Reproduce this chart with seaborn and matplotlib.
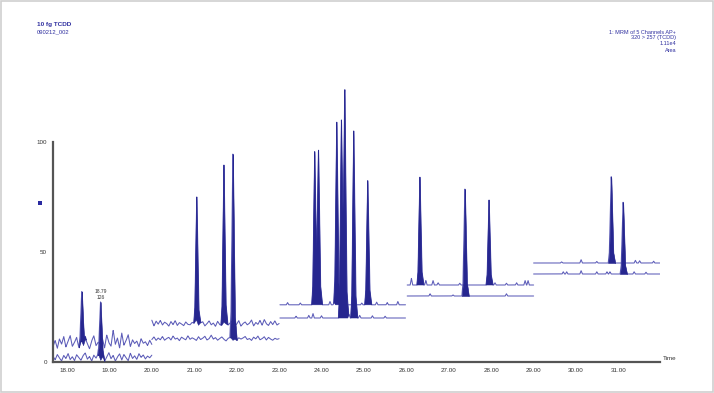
import numpy as np
import matplotlib
matplotlib.use('Agg')
import matplotlib.pyplot as plt
import seaborn as sns
from matplotlib.patches import Rectangle

sns.set_style('white')
plt.rcParams['font.family'] = ['Liberation Sans', 'DejaVu Sans']

# acquisition windows (min) and trace baseline levels (% of full scale)
window_start = [17.67, 20.00, 23.02, 26.02, 29.00]
window_end = [20.00, 23.00, 25.98, 29.00, 31.98]
upper_level = [8.5, 17.5, 26.0, 35.0, 45.0]
lower_level = [2.0, 10.6, 20.0, 30.0, 40.0]

# noisy baselines in the first two windows
w1_upper_noise = [7.0, 9.8, 6.2, 10.5, 8.1, 11.6, 6.8, 9.4, 12.0, 7.1,
                  8.9, 11.2, 6.5, 9.9, 7.7, 10.8, 8.3, 6.0, 9.6, 11.9,
                  7.4, 9.0, 8.2, 10.7, 6.4, 12.3, 8.8, 7.2, 14.5, 8.0,
                  10.9, 6.3, 13.2, 7.6, 9.7, 12.4, 7.0, 10.1, 8.4, 9.5,
                  6.9, 10.6, 8.5, 9.2, 7.5, 9.9, 8.0]
w1_lower_noise = [2.6, 1.0, 3.4, 1.8, 0.5, 3.0, 1.6, 3.9, 1.1, 2.4,
                  0.6, 3.3, 2.0, 0.8, 2.9, 4.1, 1.3, 2.5, 0.4, 3.1,
                  1.7, 3.6, 1.0, 2.6, 0.3, 2.2, 4.3, 1.5, 3.0, 0.4,
                  2.3, 3.7, 0.9, 3.4, 1.9, 0.6, 4.0, 1.6, 2.8, 1.2,
                  3.8, 2.1, 3.2, 1.4, 2.7, 1.9, 3.1]
w2_upper_noise = [19.0, 16.4, 18.6, 17.2, 18.9, 16.8, 18.1, 17.5, 16.3, 18.4,
                  17.0, 18.8, 16.6, 17.9, 17.3, 16.5, 18.2, 17.1, 16.9, 18.0,
                  17.6, 19.2, 16.7, 17.8, 18.3, 16.4, 17.4, 18.7, 16.9, 17.7,
                  16.2, 18.5, 17.0, 16.6, 18.1, 17.3, 16.8, 17.9, 18.6, 16.5,
                  17.2, 18.8, 16.3, 17.5, 18.2, 16.9, 17.6, 19.1, 16.4, 18.0,
                  17.1, 18.9, 16.7, 19.3, 17.4, 16.6, 18.4, 17.0, 18.7, 16.8, 17.5]
w2_lower_noise = [10.2, 11.4, 9.8, 10.9, 10.1, 11.6, 9.9, 10.7, 11.2, 10.0,
                  11.8, 10.4, 10.9, 9.7, 11.3, 10.6, 10.1, 11.9, 10.3, 11.0,
                  10.5, 9.8, 11.5, 10.2, 10.8, 11.7, 10.0, 10.6, 12.2, 10.4,
                  11.1, 9.9, 10.7, 11.4, 10.3, 9.6, 10.8, 11.2, 10.1, 10.5,
                  9.9, 11.0, 10.4, 10.9, 11.6, 10.2, 10.7, 9.8, 11.3, 10.5,
                  11.8, 10.1, 10.6, 11.5, 10.0, 11.2, 10.4, 9.9, 10.8, 10.3, 10.6]
noise = {(0, 'upper'): w1_upper_noise, (0, 'lower'): w1_lower_noise,
         (1, 'upper'): w2_upper_noise, (1, 'lower'): w2_lower_noise}

# chromatographic peaks: retention time, apex, trace
peak_time = [18.35, 18.79, 21.06, 21.70, 21.91, 23.84, 23.93, 24.36, 24.47,
             24.55, 24.76, 25.09, 26.32, 27.38, 27.95, 30.83, 31.11]
peak_apex = [32.0, 27.3, 75.0, 89.5, 94.5, 95.6, 95.5, 109.0, 110.0,
             120.3, 105.0, 82.4, 84.0, 78.6, 73.6, 84.2, 72.6]
peak_trace = ['upper', 'lower', 'upper', 'upper', 'lower', 'upper', 'upper', 'upper', 'lower',
              'lower', 'lower', 'upper', 'upper', 'lower', 'upper', 'upper', 'lower']

# small baseline bumps
bump_time = [23.20, 23.50, 24.20, 24.30, 24.95, 25.30, 25.55, 25.80,
             23.40, 23.70, 23.80, 24.00, 24.65, 24.90, 25.20, 25.50,
             26.12, 26.46, 26.63, 26.75, 27.26, 28.09, 28.36, 28.60, 28.80, 28.87,
             26.56, 27.10, 28.36,
             29.66, 30.12, 30.49, 31.40, 31.50, 31.83,
             29.70, 29.78, 30.12, 30.49, 30.73, 30.80, 31.37, 31.65]
bump_height = [1.0, 0.8, 1.5, 1.0, 0.8, 1.2, 1.0, 1.5,
               0.8, 1.2, 2.0, 1.0, 1.5, 1.2, 1.0, 0.8,
               3.0, 2.0, 2.0, 1.0, 0.8, 1.0, 0.8, 1.0, 2.0, 2.0,
               1.0, 0.5, 1.0,
               0.5, 1.5, 0.7, 1.2, 1.0, 0.8,
               1.0, 1.0, 1.5, 1.0, 1.0, 1.0, 1.0, 0.8]
bump_trace = ['upper'] * 8 + ['lower'] * 8 + ['upper'] * 10 + ['lower'] * 3 + \
             ['upper'] * 6 + ['lower'] * 8

line_color = '#5c5cb8'
fill_color = '#26268f'
text_color = '#3030a0'

# peak outline template (min offsets / fraction of height)
peak_dx = np.array([-0.071, -0.045, -0.004, 0.0, 0.004, 0.05, 0.094])
peak_dy = np.array([0.0, 0.12, 0.97, 1.0, 0.97, 0.12, 0.0])
bump_dx = np.array([-1.0, 0.0, 1.0]) * 0.03
bump_dy = np.array([0.0, 1.0, 0.0])

fig = plt.figure(figsize=(7.14, 3.93), dpi=100)
ax = fig.add_axes([53 / 714, 1 - 362 / 393, 607 / 714, 275 / 393])

for wi in range(len(window_start)):
    s, e = window_start[wi], window_end[wi]
    for ch, level in (('upper', upper_level[wi]), ('lower', lower_level[wi])):
        pk = [i for i in range(len(peak_time)) if s <= peak_time[i] <= e and peak_trace[i] == ch]
        bm = [i for i in range(len(bump_time)) if s <= bump_time[i] <= e and bump_trace[i] == ch]
        extra = [peak_time[i] + peak_dx for i in pk] + [bump_time[i] + bump_dx for i in bm]
        grid = np.linspace(s, e, 800)
        if extra:
            grid = np.union1d(grid, np.clip(np.concatenate(extra), s, e))
        if (wi, ch) in noise:
            vals = noise[(wi, ch)]
            nt = np.linspace(s, e, len(vals))
            base = np.interp(grid, nt, vals)
        else:
            nt, vals = [s, e], [level, level]
            base = np.full_like(grid, level)
        bump_part = np.zeros_like(grid)
        for i in bm:
            bump_part += np.interp(grid, bump_time[i] + bump_dx, bump_height[i] * bump_dy, left=0, right=0)
        peak_part = np.zeros_like(grid)
        for i in pk:
            h = peak_apex[i] - np.interp(peak_time[i], nt, vals)
            peak_part += np.interp(grid, peak_time[i] + peak_dx, h * peak_dy, left=0, right=0)
        floor = base + bump_part
        y = floor + peak_part
        sns.lineplot(x=grid, y=y, ax=ax, color=line_color, linewidth=0.75,
                     estimator=None, sort=False)
        ax.fill_between(grid, floor, y, where=peak_part > 0, color=fill_color,
                        lw=0.4, edgecolor=fill_color, interpolate=True, zorder=3)

# retention time / area label of the 18.79 peak
ax.text(18.79, 28.3, '18.79\n126', ha='center', va='bottom', fontsize=3.6,
        color='#333333', linespacing=1.2)

ax.set_xlim(17.67, 31.98)
ax.set_ylim(0, 125)
for side in ('top', 'right'):
    ax.spines[side].set_visible(False)
ax.spines['left'].set_bounds(0, 100)
for side in ('left', 'bottom'):
    ax.spines[side].set_color('#555555')
    ax.spines[side].set_linewidth(1.6)

xt = list(range(18, 32))
ax.set_xticks(xt)
ax.set_xticklabels([f'{t}.00' for t in xt])
ax.set_xticks(np.arange(17.7, 31.95, 0.1), minor=True)
ax.set_yticks([0, 50, 100])
ax.set_yticklabels(['0', '50', '100'])
ax.set_yticks(np.arange(10, 100, 10), minor=True)
ax.tick_params(which='major', length=3, width=0.6, color='#555555',
               labelsize=4.5, labelcolor='#333333', pad=1.5)
ax.tick_params(which='minor', length=2, width=0.5, color='#555555')
ax.set_xlabel('')
ax.set_ylabel('')
ax.grid(False)

fig.text(663 / 714, 1 - 359 / 393, 'Time', fontsize=4.5, va='center', color='#333333')

fig.text(37 / 714, 1 - 24.5 / 393, '10 fg TCDD', fontsize=4.6, fontweight='bold',
         color=text_color, va='center')
fig.text(37 / 714, 1 - 32.3 / 393, '090212_002', fontsize=4.2, color=text_color, va='center')

right_lines = ['1: MRM of 5 Channels AP+', '320 > 257 (TCDD)', '1.11e4', 'Area']
right_y = [32.3, 37.9, 43.9, 50.5]
for txt, yy in zip(right_lines, right_y):
    fig.text(676 / 714, 1 - yy / 393, txt, fontsize=4.0, color=text_color,
             ha='right', va='center')

fig.add_artist(Rectangle((38 / 714, 1 - 205 / 393), 4 / 714, 4 / 393,
                         transform=fig.transFigure, color='#2a2aa0', lw=0))
fig.add_artist(Rectangle((0.7 / 714, 0.7 / 393), 712 / 714, 391.5 / 393,
                         transform=fig.transFigure, fill=False,
                         edgecolor='#cfcfcf', lw=1.2))

fig.savefig('out.png', dpi=100)
plt.close(fig)
